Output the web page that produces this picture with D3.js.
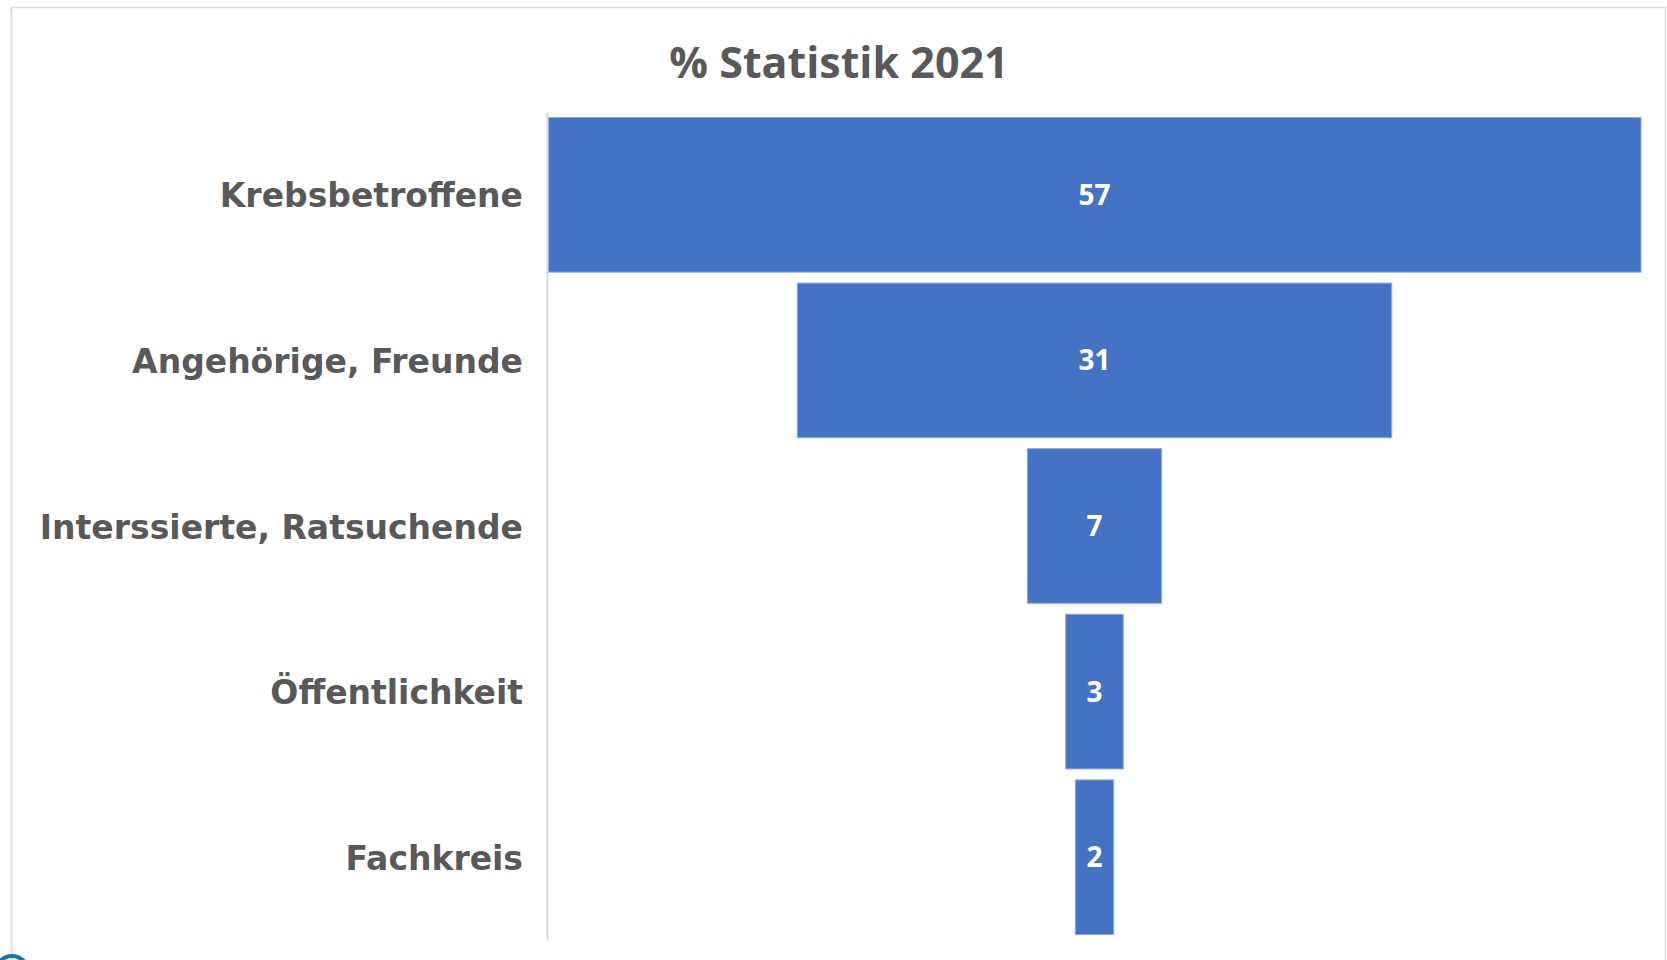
<!DOCTYPE html>
<html>
<head>
<meta charset="utf-8">
<script src="https://cdn.jsdelivr.net/npm/d3@7"></script>
<style>
    body { margin: 0; background: #fff; }
    svg { display: block; }
</style>
</head>
<body>
<div id="chart"></div>
<script>
// data
const categories = ["Krebsbetroffene", "Angehörige, Freunde", "Interssierte, Ratsuchende", "Öffentlichkeit", "Fachkreis"];
const values = [57, 31, 7, 3, 2];
const title = "% Statistik 2021";

const width = 1667, height = 960;
const plot = {left: 548, right: 1641, top: 112, bottom: 940};
const centerX = (plot.left + plot.right) / 2;

const svg = d3.select("#chart").append("svg")
    .attr("width", width)
    .attr("height", height);

// chart frame
svg.append("rect")
    .attr("x", 11.5).attr("y", 7.5)
    .attr("width", 1654).attr("height", 1000)
    .attr("fill", "#fff")
    .attr("stroke", "#d9d9d9")
    .attr("stroke-width", 1.5);

// scales
const y = d3.scaleBand()
    .domain(categories)
    .range([plot.top, plot.bottom])
    .paddingInner(0.066)
    .paddingOuter(0.033);

const x = d3.scaleLinear()
    .domain([0, d3.max(values)])
    .range([0, plot.right - plot.left]);

// title
svg.append("text")
    .attr("x", 839)
    .attr("y", 78)
    .attr("text-anchor", "middle")
    .attr("font-family", "'Open Sans', sans-serif")
    .attr("font-weight", 700)
    .attr("font-size", 43)
    .attr("fill", "#595959")
    .text(title);

// funnel bars
svg.append("g")
    .selectAll("rect")
    .data(values)
    .join("rect")
    .attr("x", d => centerX - x(d) / 2)
    .attr("y", (d, i) => y(categories[i]))
    .attr("width", d => x(d))
    .attr("height", y.bandwidth())
    .attr("fill", "#4472c4")
    .attr("stroke", "#8faadc")
    .attr("stroke-width", 1);

// value labels
svg.append("g")
    .selectAll("text")
    .data(values)
    .join("text")
    .attr("x", centerX)
    .attr("y", (d, i) => y(categories[i]) + y.bandwidth() / 2)
    .attr("dy", "0.36em")
    .attr("text-anchor", "middle")
    .attr("font-family", "'Open Sans', sans-serif")
    .attr("font-weight", 700)
    .attr("font-size", 28)
    .attr("fill", "#fff")
    .text(d => d);

// category axis
const axis = svg.append("g")
    .attr("transform", `translate(${plot.left - 1},0)`)
    .call(d3.axisLeft(y).tickSize(0).tickPadding(24));

axis.select(".domain")
    .attr("stroke", "#d9d9d9")
    .attr("stroke-width", 2);

axis.selectAll(".tick text")
    .attr("dy", "0.38em")
    .attr("font-family", "'DejaVu Sans', Verdana, sans-serif")
    .attr("font-weight", 700)
    .attr("font-size", 33)
    .attr("fill", "#595959");

// partial icon at the bottom-left corner
svg.append("circle")
    .attr("cx", 12).attr("cy", 972)
    .attr("r", 16)
    .attr("fill", "none")
    .attr("stroke", "#1f6fb5")
    .attr("stroke-width", 4);
</script>
</body>
</html>
